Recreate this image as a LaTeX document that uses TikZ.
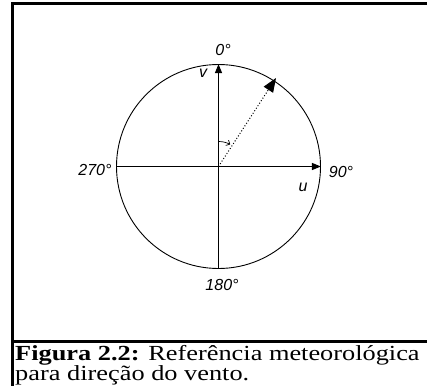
\documentclass[tikz,border=0pt]{standalone}
\usepackage{fontspec}
\setmainfont{Liberation Serif}
\newfontfamily\lblfont{Liberation Sans}
\usetikzlibrary{arrows.meta}
\begin{document}
\begin{tikzpicture}[x=1pt,y=-1pt,
  frame/.style={line width=2.4pt,line cap=rect},
  axis/.style={line width=1pt},
  vec/.style={line width=1pt,-{Triangle[length=9pt,width=7pt]}},
  wind/.style={line width=1pt,dotted,-{Triangle[length=14pt,width=11pt]}},
  lbl/.style={font=\lblfont\itshape\fontsize{16}{18}\selectfont,inner sep=0pt},
  captext/.style={font=\fontsize{21.5}{24}\selectfont,inner sep=0pt,anchor=base west,transform shape,xscale=1.225}]
\useasboundingbox (0,0) rectangle (427,385);
% frame
\draw[frame] (12.5,385) -- (12.5,3.5) -- (427,3.5);
\draw[frame] (12.5,341.5) -- (427,341.5);
% circle
\coordinate (O) at (218.5,166.5);
\node[circle,draw,line width=0.9pt,minimum size=204pt,inner sep=0pt] (c) at (O) {};
\coordinate (N) at (c.north);
\coordinate (S) at (c.south);
\coordinate (E) at (c.east);
\coordinate (W) at (c.west);
\coordinate (P) at (276,78);
\coordinate (A) at ([yshift=25pt]O);
\draw[axis] (S) -- (O);
\draw[axis] (W) -- (O);
\draw[vec] (O) -- (N);
\draw[vec] (O) -- (E);
\draw[wind] (O) -- (P);
\draw[line width=0.7pt,-{Straight Barb[length=3pt,width=6pt]}] (A) arc[start angle=90,end angle=62,radius=25pt];
% labels
\node[lbl] (l0) at (223,50) {0°};
\node[lbl] (lv) at (203,73) {v};
\node[lbl] (l90) at (341,172) {90°};
\node[lbl] (lu) at (303,187) {u};
\node[lbl] (l270) at (95,170) {270°};
\node[lbl] (l180) at (222,285) {180°};
% caption
\node[captext] (cap1) at (15,360) {\textbf{Figura 2.2:} Referência meteorológica};
\node[captext] (cap2) at (15,380.5) {para direção do vento.};
\end{tikzpicture}
\end{document}
